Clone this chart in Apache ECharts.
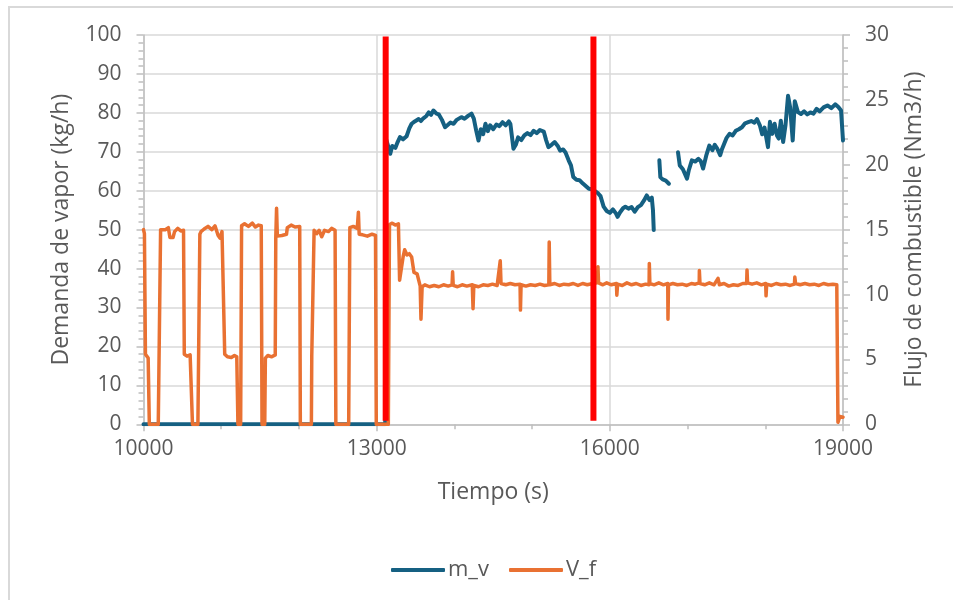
<!DOCTYPE html>
<html>
<head>
<meta charset="utf-8">
<script src="https://cdn.jsdelivr.net/npm/echarts@6/dist/echarts.min.js"></script>
<style>
html,body{margin:0;padding:0;background:#fff;}
#frame{position:absolute;left:8px;top:6px;width:1200px;height:1200px;border-left:2px solid #d9d9d9;border-top:2px solid #d9d9d9;}
#chart{position:absolute;left:0;top:0;width:953px;height:600px;}
</style>
</head>
<body>
<div id="frame"></div>
<div id="chart"></div>
<script>
// Time (s) for m_v
const tMv = [10000,13110,13120,13140,13175,13200,13240,13270,13300,13340,13385,13420,13450,13490,13540,13570,13600,13640,13670,13700,13730,13770,13800,13840,13880,13910,13950,13990,14030,14090,14130,14180,14220,14250,14280,14310,14340,14370,14400,14430,14460,14500,14540,14580,14620,14660,14700,14720,14760,14790,14820,14860,14900,14940,14980,15020,15060,15100,15150,15180,15210,15250,15290,15330,15360,15400,15430,15470,15500,15530,15570,15610,15650,15690,15730,15770,15810,15850,15880,15920,15960,16000,16040,16080,16100,16130,16170,16200,16240,16280,16320,16360,16400,16440,16475,16510,16540,16555,16565,16600,16637,16650,16680,16720,16760,16820,16877,16900,16940,16993,17015,17055,17100,17140,17170,17200,17240,17280,17320,17350,17380,17420,17440,17470,17500,17540,17580,17620,17660,17700,17740,17780,17820,17860,17893,17930,17960,17990,18035,18060,18090,18120,18150,18173,18200,18230,18260,18293,18320,18353,18380,18420,18460,18500,18540,18580,18620,18660,18700,18750,18800,18850,18900,18940,18975,19000];
// Demanda de vapor m_v (kg/h)
const mv = [0,0,73.3,72,69.5,71.5,71,72.5,73.8,73.2,74,76,77.2,77.8,78.4,77.9,78.6,79.2,80.1,79.5,80.6,79.8,79.6,78.2,76.3,76.8,77.5,77.2,78.2,78.9,78.5,79.3,79.8,78.5,75.5,72.9,75.8,74.5,77.2,75.3,76.8,75.8,77,76.6,77.6,76.8,77.8,77.2,70.8,71.8,73.7,73,74.2,74.8,74.3,75.4,74.8,75.6,75.2,73,71.2,71.8,72.5,71.5,70.3,70.6,69.8,67.8,66.5,63.5,62.8,62.7,61.9,61.2,60.5,60.4,59.9,59.3,58.6,55.9,54.8,54.3,55.2,54.1,53.3,54.4,55.5,55.9,55.4,55.8,54.6,55.8,56.3,57.5,58.8,57.6,58.2,55,49.9,null,67.8,63.5,62.9,62.6,61.8,null,69.9,66.5,65.5,63.1,65.2,67.8,67.5,68.2,67.6,65.7,69,71.6,70.4,71.8,70.9,69.1,70.5,72,73.5,74.6,74.2,75.4,75.8,76.3,77.3,77.6,77.9,77.5,78.4,76.8,74.5,76.2,71.2,77.7,74.6,77.2,74.2,73.4,78,72.5,76.8,84.4,81.4,72.9,83,80.2,79.7,80.4,79.6,80.1,79.8,81,80.4,81.4,81.9,81.2,82.2,81.5,80.6,72.9];
// Time (s) for V_f
const tVf = [10000,10012,10025,10060,10075,10190,10220,10240,10280,10320,10340,10380,10400,10440,10480,10515,10525,10560,10600,10620,10630,10700,10725,10740,10780,10830,10880,10920,10960,10985,11010,11035,11045,11080,11130,11170,11200,11215,11250,11262,11300,11350,11400,11440,11480,11515,11525,11560,11568,11600,11650,11695,11702,11712,11722,11780,11840,11850,11900,11950,12010,12018,12160,12165,12185,12195,12230,12260,12293,12330,12380,12420,12465,12475,12640,12655,12700,12750,12765,12775,12820,12880,12940,12985,12995,13150,13165,13200,13240,13280,13295,13320,13340,13360,13390,13420,13450,13480,13520,13545,13560,13570,13585,13620,13680,13740,13800,13860,13920,13970,13977,13985,14040,14100,14160,14230,14240,14250,14310,14370,14430,14490,14550,14590,14600,14660,14720,14780,14845,14850,14858,14920,14980,15040,15100,15160,15215,15220,15228,15290,15350,15410,15470,15530,15590,15650,15710,15780,15840,15847,15855,15910,15960,16020,16085,16090,16100,16160,16220,16280,16340,16400,16460,16505,16508,16515,16570,16630,16690,16745,16748,16755,16810,16870,16930,16990,17050,17100,17150,17152,17160,17220,17280,17340,17392,17410,17470,17530,17590,17650,17710,17760,17765,17772,17830,17890,17950,18005,18010,18018,18080,18140,18200,18260,18320,18375,18380,18390,18450,18510,18570,18630,18690,18750,18810,18870,18920,18935,18960,18985,19000];
// Flujo de combustible V_f (Nm3/h)
const vf = [15.0,14.7,5.4,5.1,0,0,15.0,15.15,15.0,15.15,14.4,14.4,14.85,15.1,14.9,14.95,5.4,5.25,5.35,5.2,0,0,14.65,14.85,15.05,15.25,15.0,15.3,14.55,14.35,14.85,14.9,5.4,5.2,5.15,5.3,5.2,0,0,15.3,15.45,15.25,15.5,15.2,15.35,15.3,0,0,5.1,5.3,5.2,5.35,14.4,16.65,14.5,14.55,14.65,15.15,15.35,15.2,15.25,0,0,5.25,5.35,14.95,14.7,14.95,14.45,14.95,14.85,15.1,14.95,0,0,15.15,15.25,15.1,16.35,14.65,14.6,14.5,14.65,14.55,0,0,15.4,15.5,15.35,15.45,11.1,10.95,12.9,13.45,13.05,13.15,12.9,11.7,11.6,11.65,10.65,8.1,10.6,10.75,10.6,10.7,10.6,10.75,10.65,10.75,11.75,10.7,10.6,10.75,10.65,10.75,8.9,10.7,10.6,10.75,10.7,10.8,10.7,12.6,10.85,10.75,10.85,10.75,10.8,8.8,10.75,10.65,10.75,10.7,10.8,10.7,10.75,14.05,10.75,10.85,10.7,10.8,10.75,10.85,10.7,10.85,10.75,10.85,10.9,12.15,10.9,10.75,10.9,10.75,10.85,9.95,10.8,10.7,10.9,10.75,10.85,10.7,10.8,10.75,12.4,10.85,10.75,10.9,10.75,10.85,8.1,10.75,10.85,10.75,10.8,10.7,10.85,10.8,10.9,11.85,10.85,10.75,10.9,10.75,11.25,10.75,10.85,10.65,10.75,10.7,10.85,10.85,11.9,10.9,10.8,10.9,10.75,10.85,9.9,10.8,10.7,10.85,10.75,10.8,10.7,10.8,11.35,10.85,10.75,10.85,10.75,10.8,10.7,10.85,10.75,10.8,10.75,0.15,0.6,0.45,0.55];
// Marked instants (s)
const markTimes = [13116, 15789];
const markRange = [0.9, 99.6];

const xTicks = {min: 10000, max: 19000, interval: 3000};
const yLeft = {min: 0, max: 100, interval: 10};
const yRight = {min: 0, max: 30, interval: 5};

const FONT = 'Open Sans';
const TXT = '#595959';
const GRID = '#d9d9d9';
const AXIS = '#bfbfbf';

const mvData = tMv.map((t, i) => [t, mv[i]]);
const vfData = tVf.map((t, i) => [t, vf[i]]);
const redSeries = markTimes.map((t, i) => ({
  name: 'mark' + i, type: 'line', yAxisIndex: 0, symbol: 'none', silent: true, z: 5,
  data: [[t, markRange[0]], [t, markRange[1]]],
  lineStyle: {color: '#ff0000', width: 6, cap: 'butt'}
}));

const chart = echarts.init(document.getElementById('chart'), null, {renderer: 'canvas'});
chart.setOption({
  animation: false,
  backgroundColor: 'transparent',
  textStyle: {fontFamily: FONT},
  grid: {left: 143.5, right: 110, top: 35, bottom: 175.7, containLabel: false},
  legend: {
    data: ['m_v', 'V_f'], left: 386, top: 554, itemWidth: 54, itemHeight: 4, itemGap: 20,
    icon: 'roundRect',
    textStyle: {fontFamily: FONT, fontSize: 22, color: TXT, padding: [0, 0, 0, -2]}
  },
  xAxis: {
    type: 'value', min: xTicks.min, max: xTicks.max, interval: xTicks.interval,
    name: 'Tiempo (s)', nameLocation: 'middle', nameGap: 57,
    nameTextStyle: {fontFamily: FONT, fontSize: 23, color: TXT},
    axisLine: {show: true, onZero: false, lineStyle: {color: AXIS, width: 1.5}},
    axisTick: {show: true, length: 7, lineStyle: {color: AXIS, width: 1.5}},
    minorTick: {show: true, splitNumber: 3, length: 5, lineStyle: {color: AXIS, width: 1.5}},
    splitLine: {show: true, lineStyle: {color: GRID, width: 1.5}},
    axisLabel: {fontFamily: FONT, fontSize: 21, color: TXT, margin: 14, formatter: v => String(v)}
  },
  yAxis: [{
    type: 'value', min: yLeft.min, max: yLeft.max, interval: yLeft.interval,
    name: 'Demanda de vapor (kg/h)', nameLocation: 'middle', nameGap: 71, nameRotate: 90,
    nameTextStyle: {fontFamily: FONT, fontSize: 23, color: TXT},
    axisLine: {show: true, lineStyle: {color: AXIS, width: 1.5}},
    axisTick: {show: true, length: 7, lineStyle: {color: AXIS, width: 1.5}},
    minorTick: {show: true, splitNumber: 5, length: 5, lineStyle: {color: AXIS, width: 1.5}},
    splitLine: {show: true, lineStyle: {color: GRID, width: 1.5}},
    axisLabel: {fontFamily: FONT, fontSize: 21, color: TXT, margin: 22}
  }, {
    type: 'value', min: yRight.min, max: yRight.max, interval: yRight.interval, position: 'right',
    name: 'Flujo de combustible (Nm3/h)', nameLocation: 'middle', nameGap: 60, nameRotate: 90,
    nameTextStyle: {fontFamily: FONT, fontSize: 23, color: TXT},
    axisLine: {show: true, lineStyle: {color: AXIS, width: 1.5}},
    axisTick: {show: true, length: 7, lineStyle: {color: AXIS, width: 1.5}},
    minorTick: {show: true, splitNumber: 5, length: 5, lineStyle: {color: AXIS, width: 1.5}},
    splitLine: {show: false},
    axisLabel: {fontFamily: FONT, fontSize: 21, color: TXT, margin: 22}
  }],
  series: [{
    name: 'm_v', type: 'line', yAxisIndex: 0, symbol: 'none', connectNulls: false, z: 2,
    data: mvData, color: '#156082',
    lineStyle: {color: '#156082', width: 4, join: 'round', cap: 'round'}
  }, {
    name: 'V_f', type: 'line', yAxisIndex: 1, symbol: 'none', z: 3,
    data: vfData, color: '#e97132',
    lineStyle: {color: '#e97132', width: 3.5, join: 'round', cap: 'round'}
  }].concat(redSeries)
});
</script>
</body>
</html>
